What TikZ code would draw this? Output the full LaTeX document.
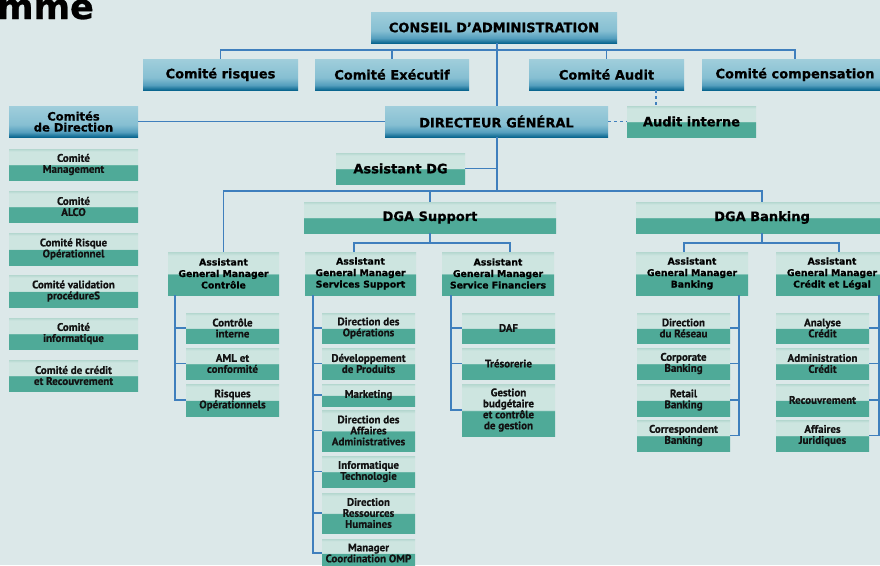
\documentclass[tikz,border=0pt]{standalone}
\usepackage{fontspec}
\setmainfont{DejaVu Sans}[BoldFeatures={FakeBold=0.8}]
\newfontfamily\ptsans{PT Sans}[BoldFeatures={FakeBold=0.6}]
\definecolor{bg}{HTML}{DCE8E9}
\definecolor{ln}{HTML}{3F7FBD}
\definecolor{gB}{HTML}{4FAA98}
\definecolor{gT}{HTML}{CDE5E0}
\definecolor{gT0}{HTML}{B4D7CF}
\definecolor{bT}{HTML}{A0CEDB}
\definecolor{bM}{HTML}{86BFD2}
\definecolor{bL}{HTML}{559FBE}
\definecolor{bD}{HTML}{0A668F}
\definecolor{txt}{HTML}{121212}
\pgfdeclareverticalshading{bluebox}{100bp}{color(0bp)=(bD); color(25bp)=(bD); color(33bp)=(bL); color(45bp)=(bM); color(75bp)=(bT); color(100bp)=(bT)}
\pgfdeclareverticalshading{greenbox}{100bp}{color(0bp)=(gB); color(25bp)=(gB); color(49bp)=(gB); color(50bp)=(gT); color(71bp)=(gT); color(75bp)=(gT0); color(100bp)=(gT0)}
\tikzset{
  hbox/.style={shade, shading=bluebox, inner sep=0pt, align=center, text=black,
    font=\bfseries\fontsize{13}{14}\selectfont},
  cdbox/.style={shade, shading=bluebox, inner sep=0pt, align=center, text=black,
    font=\bfseries\fontsize{11.5}{11}\selectfont},
  hgbox/.style={shade, shading=greenbox, inner sep=0pt, align=center, text=black,
    font=\bfseries\fontsize{13}{14}\selectfont},
  abox/.style={shade, shading=greenbox, inner sep=0pt, align=center, text=black,
    font=\bfseries\fontsize{9.3}{11.5}\selectfont},
  gbox/.style={shade, shading=greenbox, inner sep=0pt, align=center, text=txt,
    font=\ptsans\bfseries\fontsize{11}{11}\selectfont},
  link/.style={draw=ln, line width=1.2pt},
  dlink/.style={draw=ln, line width=1.2pt, dashed, dash pattern=on 3pt off 3pt}
}
\newcommand\mkbx[7]{%
  \pgfmathsetmacro\bxw{#5-#3}\pgfmathsetmacro\bxh{#6-#4}%
  \pgfmathsetmacro\bxx{(#3+#5)/2}\pgfmathsetmacro\bxy{(#4+#6)/2}%
  \node[#1, minimum width=\bxw pt, minimum height=\bxh pt] (#2) at (\bxx,\bxy) {#7};}
\begin{document}
\begin{tikzpicture}[x=1pt,y=-1pt]
\useasboundingbox (0,0) rectangle (880,565);
\clip (0,0) rectangle (880,565);
\fill[bg] (0,0) rectangle (880,565);
\node[anchor=base east, inner sep=0pt, font=\bfseries\fontsize{35}{35}\selectfont] (title) at (94,19) {Organigramme};

% coordinates for buses and trunks
\coordinate (yA) at (0,50);
\coordinate (xT) at (497,0);
\coordinate (yB) at (0,191);
\coordinate (yS) at (0,243);
\coordinate (xD) at (656,0);
\coordinate (xs1) at (354,0);
\coordinate (xs2) at (510,0);
\coordinate (xb1) at (684,0);
\coordinate (xb2) at (839,0);
\coordinate (xC) at (175,0);
\coordinate (xS) at (313,0);
\coordinate (xF) at (451,0);
\coordinate (xB) at (739,0);
\coordinate (xK) at (879,0);

% top level
\mkbx{hbox}{ca}{371}{12}{617}{43}{CONSEIL D’ADMINISTRATION}
\mkbx{hbox}{crisk}{143}{59}{298}{90}{Comité risques}
\mkbx{hbox}{cexec}{315}{59}{469}{90}{Comité Exécutif}
\mkbx{hbox}{caudit}{529}{59}{684}{90}{Comité Audit}
\mkbx{hbox}{ccomp}{702}{59}{888}{90}{Comité compensation}
\mkbx{cdbox}{cdir}{9}{106}{138}{137}{Comités\\de Direction}
\mkbx{hbox}{dg}{385}{106}{608}{137}{DIRECTEUR GÉNÉRAL}
\mkbx{hgbox}{ainterne}{627}{106}{756}{137}{Audit interne}
\mkbx{hgbox}{adg}{336}{153}{465}{184}{Assistant DG}
\mkbx{hgbox}{dgas}{304}{202}{556}{233}{DGA Support}
\mkbx{hgbox}{dgab}{636}{202}{888}{233}{DGA Banking}

% comités de direction
\mkbx{gbox}{cm1}{9}{149}{138}{180}{Comité\\Management}
\mkbx{gbox}{cm2}{9}{191}{138}{222}{Comité\\ALCO}
\mkbx{gbox}{cm3}{9}{233}{138}{265}{Comité Risque\\Opérationnel}
\mkbx{gbox}{cm4}{9}{275}{138}{307}{Comité validation\\procédureS}
\mkbx{gbox}{cm5}{9}{318}{138}{349}{Comité\\informatique}
\mkbx{gbox}{cm6}{9}{360}{138}{391}{Comité de crédit\\et Recouvrement}

% assistants GM
\mkbx{abox}{agmc}{168}{252}{279}{295}{Assistant\\General Manager\\Contrôle}
\mkbx{abox}{agss}{305}{252}{416}{295}{Assistant\\General Manager\\Services Support}
\mkbx{abox}{agsf}{442}{252}{554}{295}{Assistant\\General Manager\\Service Financiers}
\mkbx{abox}{agmb}{636}{252}{748}{295}{Assistant\\General Manager\\Banking}
\mkbx{abox}{agcl}{776}{252}{888}{295}{Assistant\\General Manager\\Crédit et Légal}

% Contrôle
\mkbx{gbox}{c1}{186}{313}{279}{343}{Contrôle\\interne}
\mkbx{gbox}{c2}{186}{348}{279}{379}{AML et\\conformité}
\mkbx{gbox}{c3}{186}{384}{279}{416}{Risques\\Opérationnels}

% Services support
\mkbx{gbox}{s1}{322}{313}{415}{343}{Direction des\\Opérations}
\mkbx{gbox}{s2}{322}{348}{415}{379}{Développement\\de Produits}
\mkbx{gbox}{s3}{322}{384}{415}{406}{Marketing}
\mkbx{gbox}{s4}{322}{410}{415}{451}{Direction des\\Affaires\\Administratives}
\mkbx{gbox}{s5}{322}{456}{415}{487}{Informatique\\Technologie}
\mkbx{gbox}{s6}{322}{493}{415}{533}{Direction\\Ressources\\Humaines}
\mkbx{gbox}{s7}{322}{539}{415}{567}{Manager\\Coordination OMP}

% Financiers
\mkbx{gbox}{f1}{462}{313}{555}{343}{DAF}
\mkbx{gbox}{f2}{462}{348}{555}{379}{Trésorerie}
\mkbx{gbox}{f3}{462}{384}{555}{436}{Gestion\\budgétaire\\et contrôle\\de gestion}

% Banking
\mkbx{gbox}{b1}{637}{313}{730}{343}{Direction\\du Réseau}
\mkbx{gbox}{b2}{637}{348}{730}{379}{Corporate\\Banking}
\mkbx{gbox}{b3}{637}{384}{730}{416}{Retail\\Banking}
\mkbx{gbox}{b4}{637}{420}{730}{451}{Correspondent\\Banking}

% Crédit et Légal
\mkbx{gbox}{k1}{776}{313}{869}{343}{Analyse\\Crédit}
\mkbx{gbox}{k2}{776}{348}{869}{379}{Administration\\Crédit}
\mkbx{gbox}{k3}{776}{384}{869}{416}{Recouvrement}
\mkbx{gbox}{k4}{776}{420}{869}{451}{Affaires\\Juridiques}

% connectors: top
\draw[link] (ca.south -| xT) -- (dg.north -| xT);
\draw[link] (crisk.north) -- (crisk.north |- yA) -- (ccomp.north |- yA) -- (ccomp.north);
\draw[link] (cexec.north) -- (cexec.north |- yA);
\draw[link] (caudit.north) -- (caudit.north |- yA);
\draw[link] (cdir.east) -- (dg.west);
\draw[dlink] (caudit.south -| xD) -- (ainterne.north -| xD);
\draw[dlink] (dg.east) -- (ainterne.west);
\draw[link] (dg.south -| xT) -- (xT |- yB);
\draw[link] (adg.east) -- (adg.east -| xT);
\draw[link] (agmc.north) -- (agmc.north |- yB) -- (dgab.north |- yB) -- (dgab.north);
\draw[link] (dgas.north) -- (dgas.north |- yB);
% DGA support
\draw[link] (dgas.south) -- (dgas.south |- yS);
\draw[link] (agss.north -| xs1) -- (xs1 |- yS) -- (xs2 |- yS) -- (agsf.north -| xs2);
% DGA banking
\draw[link] (dgab.south) -- (dgab.south |- yS);
\draw[link] (agmb.north -| xb1) -- (xb1 |- yS) -- (xb2 |- yS) -- (agcl.north -| xb2);
% Contrôle column
\draw[link] (agmc.south -| xC) -- (c3.west -| xC) -- (c3.west);
\draw[link] (c1.west -| xC) -- (c1.west);
\draw[link] (c2.west -| xC) -- (c2.west);
% Services column
\draw[link] (agss.south -| xS) -- (s7.west -| xS) -- (s7.west);
\foreach \n in {s1,s2,s3,s4,s5,s6} \draw[link] (\n.west -| xS) -- (\n.west);
% Financiers column
\draw[link] (agsf.south -| xF) -- (f3.west -| xF) -- (f3.west);
\draw[link] (f1.west -| xF) -- (f1.west);
\draw[link] (f2.west -| xF) -- (f2.west);
% Banking column
\draw[link] (agmb.south -| xB) -- (b4.east -| xB) -- (b4.east);
\foreach \n in {b1,b2,b3} \draw[link] (\n.east -| xB) -- (\n.east);
% Crédit column
\draw[link] (agcl.south -| xK) -- (k4.east -| xK) -- (k4.east);
\foreach \n in {k1,k2,k3} \draw[link] (\n.east -| xK) -- (\n.east);
\end{tikzpicture}
\end{document}
